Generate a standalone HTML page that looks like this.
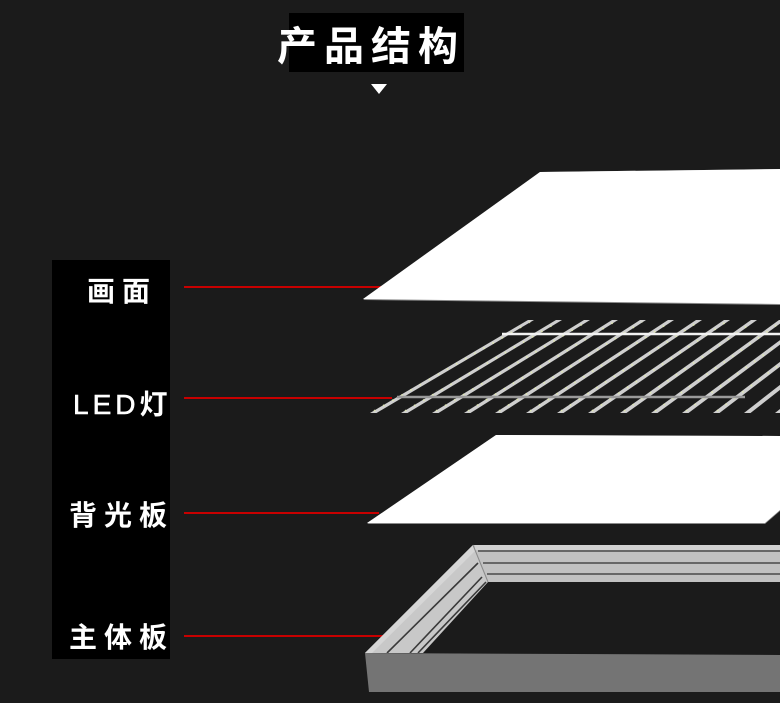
<!DOCTYPE html>
<html><head><meta charset="utf-8"><style>
html,body{margin:0;padding:0;background:#1b1b1b;}
svg{display:block;}
</style></head><body>
<svg width="780" height="703" viewBox="0 0 780 703" xmlns="http://www.w3.org/2000/svg">
<rect width="780" height="703" fill="#1b1b1b"/>
<!-- title -->
<rect x="289" y="13" width="175" height="59" fill="#000"/>
<text x="277" y="60" font-family="'Liberation Sans','Noto Sans CJK SC',sans-serif" font-weight="bold" font-size="40" letter-spacing="7" fill="#fff">产品结构</text>
<polygon points="371,84 387,84 379,94" fill="#fff"/>
<!-- label column -->
<rect x="52" y="260" width="118" height="399" fill="#000"/>
<g font-family="'Liberation Sans','Noto Sans CJK SC',sans-serif" font-weight="bold" font-size="28" fill="#fff">
<text x="87" y="301" letter-spacing="7">画面</text>
<text x="73" y="414" letter-spacing="4"><tspan font-weight="normal" stroke="#fff" stroke-width="0.6">LED</tspan>灯</text>
<text x="69" y="525" letter-spacing="7">背光板</text>
<text x="69" y="647" letter-spacing="7">主体板</text>
</g>
<!-- red lines -->
<g stroke="#c80000" stroke-width="2">
<line x1="184" y1="287" x2="381" y2="287"/>
<line x1="184" y1="398" x2="392" y2="398"/>
<line x1="184" y1="513" x2="379" y2="513"/>
<line x1="184" y1="636" x2="383" y2="636"/>
</g>
<!-- top panel -->
<polygon points="540,172 780,169 780,305 363,300" fill="#8a8a8a"/>
<polygon points="540,172 780,169 780,304 363,299" fill="#fff"/>
<!-- LED grid -->
<g fill="#cfcfcf">
<polygon points="370,413 376.5,413 534,320 528,320"/>
<polygon points="401,413 407.5,413 562,320 556,320"/>
<polygon points="432,413 438.5,413 590,320 584,320"/>
<polygon points="464,413 470.5,413 618,320 612,320"/>
<polygon points="495,413 501.5,413 646,320 640,320"/>
<polygon points="526,413 532.5,413 674,320 668,320"/>
<polygon points="557,413 563.5,413 702,320 696,320"/>
<polygon points="588,413 594.5,413 730,320 724,320"/>
<polygon points="620,413 626.5,413 757,320 751,320"/>
<polygon points="651,413 657.5,413 785,320 779,320"/>
<polygon points="682,413 688.5,413 813,320 807,320"/>
<polygon points="713,413 719.5,413 841,320 835,320"/>
<polygon points="744,413 750.5,413 869,320 863,320"/>
<polygon points="775,413 781.5,413 897,320 891,320"/>
</g>
<g stroke="#e4ecb0" stroke-width="1.8" stroke-dasharray="1.5 9" opacity="0.8">
<line x1="374" y1="411" x2="530" y2="322"/>
<line x1="405" y1="411" x2="558" y2="322"/>
<line x1="436" y1="411" x2="586" y2="322"/>
<line x1="468" y1="411" x2="614" y2="322"/>
<line x1="499" y1="411" x2="642" y2="322"/>
<line x1="530" y1="411" x2="670" y2="322"/>
<line x1="561" y1="411" x2="698" y2="322"/>
<line x1="592" y1="411" x2="726" y2="322"/>
<line x1="624" y1="411" x2="753" y2="322"/>
<line x1="655" y1="411" x2="781" y2="322"/>
<line x1="686" y1="411" x2="809" y2="322"/>
<line x1="717" y1="411" x2="837" y2="322"/>
</g>
<line x1="502" y1="334" x2="780" y2="334" stroke="#f2f2f2" stroke-width="2.5"/>
<line x1="397" y1="397" x2="745" y2="397" stroke="#9a9a9a" stroke-width="2.5"/>
<!-- backlight panel -->
<polygon points="496,435 780,436 780,511 765,524 367,524" fill="#8a8a8a"/>
<polygon points="496,435 780,436 780,510 765,523 367,523" fill="#fff"/>
<!-- frame -->
<polygon points="473,545 780,545 780,582 488,582" fill="#c2c2c2"/>
<rect x="475" y="545" width="305" height="5" fill="#d2d2d2"/>
<g stroke="#4a4a4a" stroke-width="1.6">
<line x1="478" y1="551" x2="780" y2="551"/>
<line x1="483" y1="563" x2="780" y2="563"/>
<line x1="487" y1="574" x2="780" y2="574"/>
</g>
<polygon points="473,545 488,582 423,653 365,653" fill="#c8c8c8"/>
<polygon points="473,545 365,653 372,653 476,550" fill="#d6d6d6"/>
<g stroke="#3a3a3a" stroke-width="1.6">
<line x1="478" y1="563" x2="387" y2="653"/>
<line x1="482" y1="577" x2="410" y2="653"/>
<line x1="486" y1="582" x2="418" y2="653"/>
</g>
<line x1="473" y1="545" x2="488" y2="582" stroke="#8a8a8a" stroke-width="1"/>
<polygon points="365,653 780,655 780,692 369,692" fill="#747474"/>
</svg>
</body></html>
